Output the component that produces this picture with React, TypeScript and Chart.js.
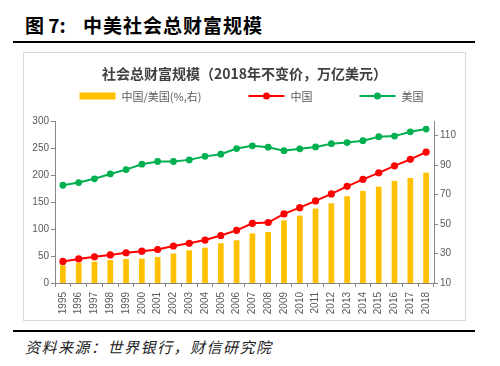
import React, { useEffect, useRef } from "react";
import { Chart, registerables } from "chart.js";
Chart.register(...registerables);

const years = ["1995","1996","1997","1998","1999","2000","2001","2002","2003","2004","2005","2006","2007","2008","2009","2010","2011","2012","2013","2014","2015","2016","2017","2018"];
const chinaWealth = [40, 44.5, 48.5, 52, 56, 59, 62, 68.5, 73.5, 79.5, 88, 97.5, 110.5, 112, 128, 139.5, 152, 165, 179, 192, 204, 217, 229, 242.5];
const usWealth = [181, 186, 193, 202, 210, 220, 225, 225, 228, 234.5, 238.5, 249, 254, 251.5, 245, 248.5, 252, 258, 260, 263.5, 271, 272, 280, 285];
const ratioPct = [22, 23.7, 24.5, 25.6, 26.3, 26.5, 27.7, 30, 32.2, 34, 37, 39, 43.7, 44.6, 52.6, 55.7, 60.5, 64.1, 68.9, 72.5, 75.4, 79.3, 81.3, 84.9];
const rightTicks = [10, 30, 50, 70, 90, 110];

const chartTitle = "社会总财富规模（2018年不变价，万亿美元）";
const seriesNames = ["中国/美国(%,右)", "中国", "美国"];

const CJK = '"Noto Sans CJK SC", "Noto Sans", sans-serif';
const NUM = '"Liberation Sans", Arial, sans-serif';
const AXIS = "#868686";
const LABEL = "#595959";

const legendPlugin = {
  id: "lineLegend",
  afterDraw(chart: any) {
    const ctx = chart.ctx;
    const ds = chart.data.datasets;
    ctx.save();
    ctx.font = "11px " + CJK;
    const symW = 36, gap = 6, spacing = 47;
    const widths = ds.map((d: any) => symW + gap + ctx.measureText(d.label).width);
    const total = widths.reduce((a: number, b: number) => a + b, 0) + spacing * (ds.length - 1);
    let x = (chart.chartArea.left + chart.chartArea.right) / 2 + 7 - total / 2;
    const y = 44;
    ds.forEach((d: any, i: number) => {
      if (d.type === "line") {
        ctx.strokeStyle = d.borderColor;
        ctx.lineWidth = 2;
        ctx.beginPath();
        ctx.moveTo(x, y);
        ctx.lineTo(x + symW, y);
        ctx.stroke();
        ctx.fillStyle = d.borderColor;
        ctx.beginPath();
        ctx.arc(x + symW / 2, y, 3.5, 0, Math.PI * 2);
        ctx.fill();
      } else {
        ctx.fillStyle = d.backgroundColor;
        ctx.fillRect(x, y - 3.5, symW, 7);
      }
      ctx.fillStyle = LABEL;
      ctx.textBaseline = "middle";
      ctx.textAlign = "left";
      ctx.fillText(d.label, x + symW + gap, y + 0.5);
      x += widths[i] + spacing;
    });
    ctx.restore();
  },
};

function ChartBox() {
  const ref = useRef<HTMLCanvasElement | null>(null);
  useEffect(() => {
    if (!ref.current) return;
    const gridOpts = { display: true, drawOnChartArea: false, drawTicks: true, tickLength: 4, color: AXIS };
    const chart = new Chart(ref.current, {
      type: "bar",
      data: {
        labels: years,
        datasets: [
          {
            type: "bar",
            label: seriesNames[0],
            data: ratioPct,
            yAxisID: "y1",
            backgroundColor: "#FFC000",
            barPercentage: 0.36,
            categoryPercentage: 1,
            order: 3,
          } as any,
          {
            type: "line",
            label: seriesNames[1],
            data: chinaWealth,
            yAxisID: "y",
            borderColor: "#FF0000",
            backgroundColor: "#FF0000",
            borderWidth: 2,
            pointRadius: 3.6,
            pointBorderWidth: 0,
            pointBackgroundColor: "#FF0000",
            order: 1,
          },
          {
            type: "line",
            label: seriesNames[2],
            data: usWealth,
            yAxisID: "y",
            borderColor: "#00B050",
            backgroundColor: "#00B050",
            borderWidth: 2,
            pointRadius: 3.4,
            pointBorderWidth: 0,
            pointBackgroundColor: "#00B050",
            order: 2,
          },
        ],
      },
      options: {
        animation: false,
        responsive: true,
        maintainAspectRatio: false,
        layout: { padding: 0 },
        plugins: {
          legend: { display: false },
          tooltip: { enabled: false },
          title: {
            display: true,
            text: chartTitle,
            color: "#404040",
            font: { size: 14, weight: "bold", family: CJK, lineHeight: 1.2 },
            padding: { top: 13, bottom: 39.2 },
          },
        },
        scales: {
          x: {
            grid: { ...gridOpts, offset: true },
            border: { color: AXIS },
            ticks: {
              minRotation: 90,
              maxRotation: 90,
              autoSkip: false,
              color: LABEL,
              padding: 5,
              font: { size: 10, family: NUM },
            },
            afterFit: (s: any) => { s.height = 38; },
          },
          y: {
            position: "left",
            min: 0,
            max: 300,
            ticks: { stepSize: 50, color: LABEL, padding: 2, font: { size: 10, family: NUM } },
            grid: gridOpts,
            border: { color: AXIS },
            afterFit: (s: any) => { s.width = 32; },
          },
          y1: {
            position: "right",
            min: 10,
            max: 120,
            ticks: { color: LABEL, padding: 2, font: { size: 10, family: NUM } },
            afterBuildTicks: (s: any) => { s.ticks = rightTicks.map((v) => ({ value: v })); },
            grid: gridOpts,
            border: { color: AXIS },
            afterFit: (s: any) => { s.width = 32; },
          },
        },
      } as any,
      plugins: [legendPlugin],
    });
    return () => chart.destroy();
  }, []);
  return <canvas ref={ref} />;
}

export default function App() {
  return (
    <div style={{ position: "fixed", left: 0, top: 0, width: 500, height: 366, background: "#fff", overflow: "hidden" }}>
      <div style={{ position: "absolute", left: 25, top: 15, fontFamily: CJK, fontWeight: 700, fontSize: 19, lineHeight: "20px", color: "#000", whiteSpace: "nowrap" }}>
        图 7:
      </div>
      <div style={{ position: "absolute", left: 83, top: 15, fontFamily: CJK, fontWeight: 700, fontSize: 19, lineHeight: "20px", color: "#000", letterSpacing: 1, whiteSpace: "nowrap" }}>
        中美社会总财富规模
      </div>
      <div style={{ position: "absolute", left: 13, top: 41, width: 462, height: 2, background: "#000" }} />
      <div style={{ position: "absolute", left: 23, top: 52, width: 443, height: 269, border: "1px solid #d9d9d9", boxSizing: "border-box" }} />
      <div style={{ position: "absolute", left: 23, top: 52, width: 443, height: 269 }}>
        <ChartBox />
      </div>
      <div style={{ position: "absolute", left: 13, top: 330, width: 462, height: 2, background: "#000" }} />
      <div style={{ position: "absolute", left: 25, top: 339, fontFamily: CJK, fontStyle: "italic", fontSize: 15, lineHeight: "16px", letterSpacing: 1.5, color: "#222", whiteSpace: "nowrap" }}>
        资料来源：世界银行，财信研究院
      </div>
    </div>
  );
}
